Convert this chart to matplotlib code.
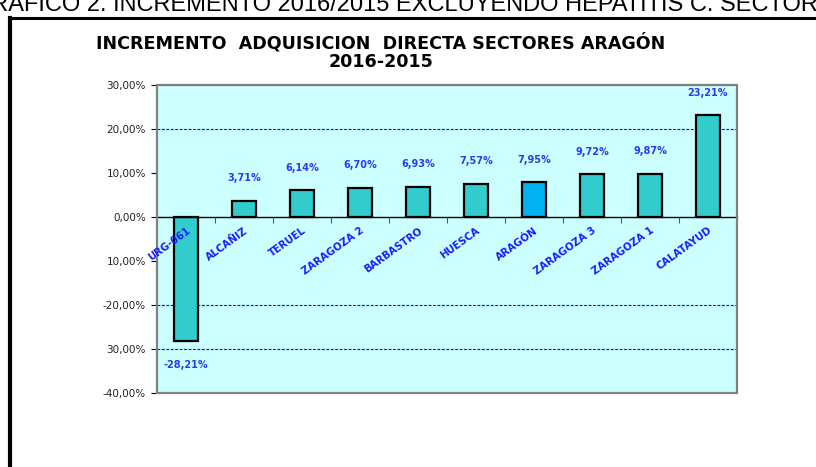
import matplotlib.pyplot as plt
from matplotlib.lines import Line2D
from matplotlib.patches import Rectangle

# data
sectores = ["URG-061", "ALCAÑIZ", "TERUEL", "ZARAGOZA 2", "BARBASTRO",
            "HUESCA", "ARAGÓN", "ZARAGOZA 3", "ZARAGOZA 1", "CALATAYUD"]
incremento = [-28.21, 3.71, 6.14, 6.70, 6.93, 7.57, 7.95, 9.72, 9.87, 23.21]
etiquetas = ["-28,21%", "3,71%", "6,14%", "6,70%", "6,93%",
             "7,57%", "7,95%", "9,72%", "9,87%", "23,21%"]
y_ticks = [-40, -30, -20, -10, 0, 10, 20, 30]
y_labels = ["-40,00%", "30,00%", "-20,00%", "10,00%", "0,00%", "10,00%", "20,00%", "30,00%"]

plt.rcParams['font.family'] = ['DejaVu Sans']

fig = plt.figure(figsize=(8.16, 4.67), dpi=100)
ax = fig.add_axes([157 / 816, 1 - 393 / 467, 580 / 816, 308 / 467])
ax.set_facecolor("#CCFFFF")

colores = ["#00B0F0" if s == "ARAGÓN" else "#33CCCC" for s in sectores]
x = range(len(sectores))
ax.bar(x, incremento, width=0.4, color=colores, edgecolor="black", linewidth=1.6, zorder=2)

# dashed grid lines
for g in [20, -20, -30]:
    ax.axhline(g, color="#0000EE", linestyle=(0, (2.5, 1.5)), linewidth=0.8, zorder=1)

# value labels
for xi, v, lab in zip(x, incremento, etiquetas):
    off = 16 if v >= 0 else -17
    ax.annotate(lab, xy=(xi, v), xytext=(0, off), textcoords="offset points",
                ha="center", va="center", fontsize=7, fontweight="bold", color="#2B3BF0")

ax.set_xlim(-0.5, len(sectores) - 0.5)
ax.set_ylim(-40, 30)
ax.set_yticks(y_ticks, labels=y_labels)
ax.tick_params(axis="y", direction="out", length=4, width=0.8, labelsize=7.5, labelcolor="#222222", pad=4)

# category axis at zero
ax.spines["bottom"].set_position(("data", 0))
ax.spines["bottom"].set_color("black")
ax.spines["bottom"].set_linewidth(1.0)
for s in ["top", "right", "left"]:
    ax.spines[s].set_visible(False)
ax.add_patch(Rectangle((0, 0), 1, 1, transform=ax.transAxes, fill=False,
                       edgecolor="#808080", linewidth=1.6, zorder=4, clip_on=False))
ax.set_xticks(list(x), labels=sectores, rotation=36, ha="right", rotation_mode="anchor")
ax.tick_params(axis="x", which="major", length=0, pad=6, labelsize=7.3, labelcolor="#1A1AFF")
for t in ax.get_xticklabels():
    t.set_fontweight("bold")
ax.set_xticks([i + 0.5 for i in range(len(sectores) - 1)], minor=True)
ax.tick_params(axis="x", which="minor", direction="out", length=4, width=0.8, color="#555555")
ax.xaxis.set_zorder(5)

# titles
fig.text(381 / 816, 1 - 52 / 467, "INCREMENTO  ADQUISICION  DIRECTA SECTORES ARAGÓN\n2016-2015",
         ha="center", va="center", fontsize=12.6, fontweight="bold", linespacing=1.0)
fig.text(-27 / 816, 1 - 11 / 467, "GRAFICO 2. INCREMENTO 2016/2015 EXCLUYENDO HEPATITIS C. SECTORES",
         ha="left", va="baseline", fontsize=17, color="black", family="Liberation Sans")

# outer frame
fig.add_artist(Line2D([10 / 816, 10 / 816], [0, 1 - 18 / 467], transform=fig.transFigure, color="black", linewidth=3))
fig.add_artist(Line2D([10 / 816, 1.01], [1 - 18 / 467, 1 - 18 / 467], transform=fig.transFigure, color="black", linewidth=2.2))

fig.savefig("out.png", dpi=100)
